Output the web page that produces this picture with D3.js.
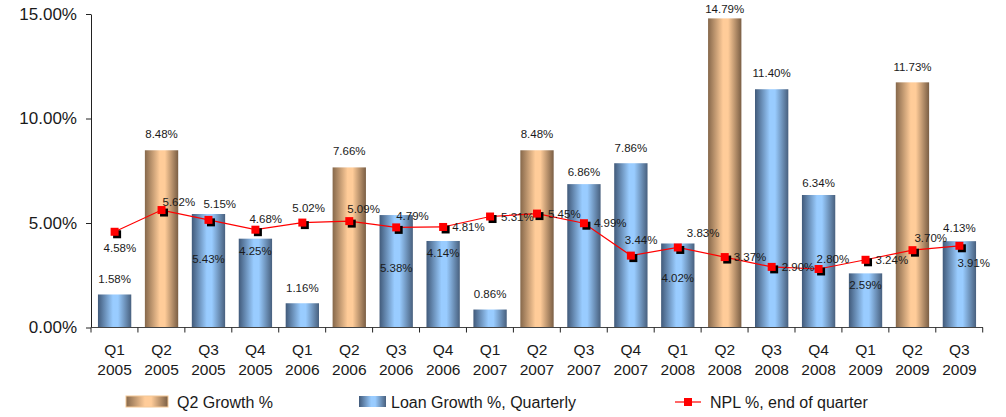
<!DOCTYPE html>
<html>
<head>
<meta charset="utf-8">
<script src="https://d3js.org/d3.v7.min.js"></script>
<style>
  body { margin: 0; background: #fff; }
  text { font-family: "Liberation Sans", Arial, sans-serif; fill: #1a1a1a; }
</style>
</head>
<body>
<div id="chart"></div>
<script>
// quarters and values
const quarters = ["Q1","Q2","Q3","Q4","Q1","Q2","Q3","Q4","Q1","Q2","Q3","Q4","Q1","Q2","Q3","Q4","Q1","Q2","Q3"];
const years = ["2005","2005","2005","2005","2006","2006","2006","2006","2007","2007","2007","2007","2008","2008","2008","2008","2009","2009","2009"];
const loanGrowth = [1.58, 8.48, 5.43, 4.25, 1.16, 7.66, 5.38, 4.14, 0.86, 8.48, 6.86, 7.86, 4.02, 14.79, 11.40, 6.34, 2.59, 11.73, 4.13];
const npl = [4.58, 5.62, 5.15, 4.68, 5.02, 5.09, 4.79, 4.81, 5.31, 5.45, 4.99, 3.44, 3.83, 3.37, 2.90, 2.80, 3.24, 3.70, 3.91];
const yTicks = [0, 5, 10, 15];

// label nudges (pixels), as placed in the original
const barLabelDy = [-15,-16,45,12,-15,-16,53,12,-16,-16,-12,-15,35,-9,-16,-12,12,-15,-13];
const nplLabelDx = [-11,1,-5,-6,-10,-2,0,9,11,11,10,-6,9,9,10,-2,10,2,-2];
const nplLabelDy = [16,-8,-16,-11,-15,-12,-11,0,0,0,0,-16,-14,0,0,-10,0,-12,17];

const width = 1006, height = 417;

const svg = d3.select("#chart").append("svg")
  .attr("width", width)
  .attr("height", height);

const defs = svg.append("defs");
function grad(id, edgeL, mid, edgeR) {
  const g = defs.append("linearGradient").attr("id", id)
    .attr("x1", "0%").attr("x2", "100%").attr("y1", "0%").attr("y2", "0%");
  g.append("stop").attr("offset", "0%").attr("stop-color", edgeL);
  g.append("stop").attr("offset", "45%").attr("stop-color", mid);
  g.append("stop").attr("offset", "60%").attr("stop-color", mid);
  g.append("stop").attr("offset", "100%").attr("stop-color", edgeR);
}
grad("blue", "#415a7a", "#99ccff", "#48607e");
grad("tan", "#86684b", "#ffcc99", "#7a5e44");

const x = d3.scaleBand()
  .domain(d3.range(quarters.length))
  .range([91, 983])
  .paddingInner(0.29)
  .paddingOuter(0.148);

const y = d3.scaleLinear()
  .domain([0, 15])
  .range([327.5, 14]);

// bars
svg.selectAll("rect.bar")
  .data(loanGrowth)
  .join("rect")
  .attr("class", "bar")
  .attr("x", (d, i) => x(i))
  .attr("width", x.bandwidth())
  .attr("y", d => y(d))
  .attr("height", d => y(0) - y(d))
  .attr("fill", (d, i) => quarters[i] === "Q2" ? "url(#tan)" : "url(#blue)");

// y axis
const yAxis = svg.append("g")
  .attr("transform", "translate(91,0)")
  .call(d3.axisLeft(y).tickValues(yTicks).tickSize(5).tickSizeOuter(0)
    .tickFormat(d => d.toFixed(2) + "%"));
yAxis.select(".domain").attr("stroke", "#222");
yAxis.selectAll(".tick line").attr("stroke", "#222");
yAxis.selectAll("text")
  .attr("x", -14)
  .style("font-size", "17px")
  .style("font-family", "Liberation Sans, Arial, sans-serif")
  .attr("fill", "#1a1a1a");

// x axis line and boundary ticks
svg.append("line")
  .attr("x1", 91).attr("x2", 983)
  .attr("y1", y(0)).attr("y2", y(0))
  .attr("stroke", "#444");
const step = x.step();
svg.selectAll("line.xtick")
  .data(d3.range(quarters.length + 1))
  .join("line")
  .attr("class", "xtick")
  .attr("x1", i => 91 + i * step)
  .attr("x2", i => 91 + i * step)
  .attr("y1", y(0))
  .attr("y2", y(0) + 5)
  .attr("stroke", "#222");

const xl = svg.selectAll("text.xlab")
  .data(quarters)
  .join("text")
  .attr("class", "xlab")
  .attr("text-anchor", "middle")
  .style("font-size", "15.5px");
xl.append("tspan")
  .attr("x", (d, i) => x(i) + x.bandwidth() / 2)
  .attr("y", 355)
  .text(d => d);
xl.append("tspan")
  .attr("x", (d, i) => x(i) + x.bandwidth() / 2)
  .attr("y", 375)
  .text((d, i) => years[i]);

// bar value labels
svg.selectAll("text.blab")
  .data(loanGrowth)
  .join("text")
  .attr("class", "blab")
  .attr("text-anchor", "middle")
  .attr("dominant-baseline", "central")
  .attr("x", (d, i) => x(i) + x.bandwidth() / 2)
  .attr("y", (d, i) => y(d) + barLabelDy[i])
  .style("font-size", "11.5px")
  .text(d => d.toFixed(2) + "%");

// NPL line
const cx = i => x(i) + x.bandwidth() / 2;
svg.append("path")
  .datum(npl)
  .attr("fill", "none")
  .attr("stroke", "#ff0000")
  .attr("stroke-width", 1.2)
  .attr("d", d3.line().x((d, i) => cx(i)).y(d => y(d)));

svg.selectAll("rect.shadow")
  .data(npl)
  .join("rect")
  .attr("class", "shadow")
  .attr("x", (d, i) => cx(i) - 4 + 2.5)
  .attr("y", d => y(d) - 4 + 2.5)
  .attr("width", 8).attr("height", 8)
  .attr("fill", "#000");

svg.selectAll("rect.mark")
  .data(npl)
  .join("rect")
  .attr("class", "mark")
  .attr("x", (d, i) => cx(i) - 4)
  .attr("y", d => y(d) - 4)
  .attr("width", 8).attr("height", 8)
  .attr("fill", "#ff0000");

svg.selectAll("text.nlab")
  .data(npl)
  .join("text")
  .attr("class", "nlab")
  .attr("dominant-baseline", "central")
  .attr("x", (d, i) => cx(i) + nplLabelDx[i])
  .attr("y", (d, i) => y(d) + nplLabelDy[i])
  .style("font-size", "11.5px")
  .text(d => d.toFixed(2) + "%");

// legend
const lg = svg.append("g");
lg.append("rect").attr("x", 126).attr("y", 396).attr("width", 42).attr("height", 11)
  .attr("fill", "url(#tan)").attr("stroke", "#f4c896").attr("stroke-width", 1);
lg.append("text").attr("x", 177).attr("y", 402).attr("dominant-baseline", "central")
  .style("font-size", "16px").text("Q2 Growth %");
lg.append("rect").attr("x", 359).attr("y", 396).attr("width", 27).attr("height", 11)
  .attr("fill", "url(#blue)");
lg.append("text").attr("x", 391).attr("y", 402).attr("dominant-baseline", "central")
  .style("font-size", "16px").text("Loan Growth %, Quarterly");
lg.append("line").attr("x1", 675).attr("x2", 701).attr("y1", 402).attr("y2", 402)
  .attr("stroke", "#ff0000").attr("stroke-width", 1.2);
lg.append("rect").attr("x", 684).attr("y", 398).attr("width", 8).attr("height", 8)
  .attr("fill", "#ff0000");
lg.append("text").attr("x", 710).attr("y", 402).attr("dominant-baseline", "central")
  .style("font-size", "16px").text("NPL %, end of quarter");
</script>
</body>
</html>
